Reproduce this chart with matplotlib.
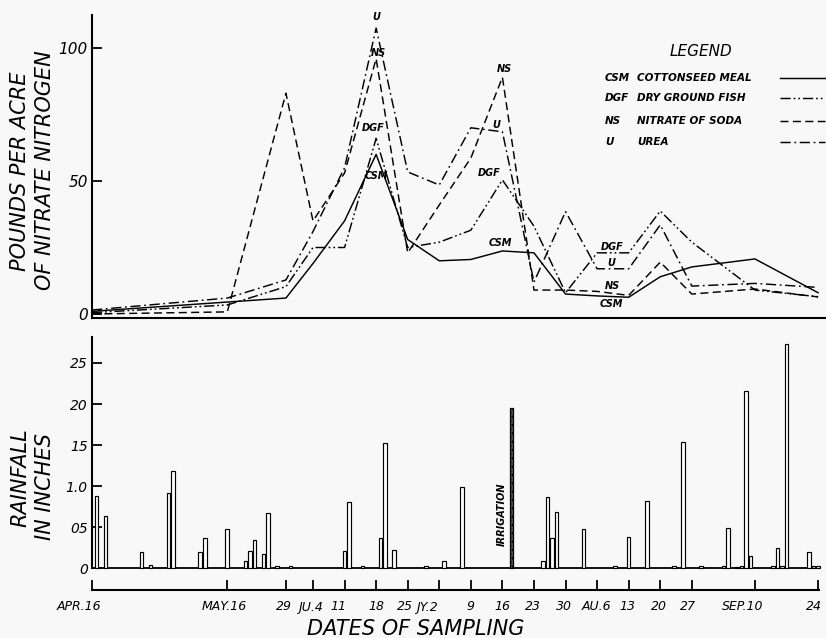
import matplotlib
matplotlib.use("Agg")
import matplotlib.pyplot as plt
from matplotlib.lines import Line2D
from matplotlib.transforms import blended_transform_factory, offset_copy

# ---------------- data ----------------
# sampling dates, expressed as days after April 16
sample_days = [0, 30, 43, 49, 56, 63, 70, 77, 84, 91, 98, 105, 112, 119, 126, 133, 147, 161]
date_labels = ["APR.16", "MAY.16", "29", "JU.4", "11", "18", "25", "JY.2", "9", "16",
               "23", "30", "AU.6", "13", "20", "27", "SEP.10", "24"]

# pounds per acre of nitrate nitrogen
csm = [1.0, 4.5, 6.0, 19.0, 35.0, 60.0, 28.0, 20.0, 20.5, 23.7, 23.0, 7.5, 6.8, 6.3, 14.0, 17.7, 20.7, 8.0]
dgf = [0.5, 3.4, 10.3, 25.0, 25.0, 66.0, 25.0, 27.0, 31.5, 50.4, 33.0, 8.0, 23.0, 23.0, 38.7, 27.0, 9.0, 6.5]
ns = [0.0, 0.8, 83.0, 35.0, 53.0, 96.0, 23.0, 41.0, 58.6, 89.0, 9.0, 9.0, 8.5, 7.0, 19.5, 7.5, 9.4, 6.4]
urea = [1.5, 6.0, 12.8, 31.0, 55.0, 107.5, 53.4, 48.5, 70.0, 68.5, 12.0, 38.5, 17.0, 17.0, 33.5, 10.5, 11.5, 10.0]

series_codes = ["CSM", "DGF", "NS", "U"]
series_names = ["COTTONSEED MEAL", "DRY GROUND FISH", "NITRATE OF SODA", "UREA"]

# daily rainfall (inches), days after April 16
rain_days = [1, 3, 11, 13, 17, 18, 24, 25, 30, 34, 35, 36, 38, 39, 41, 44, 56, 57, 60, 64,
             65, 67, 74, 78, 82, 100, 101, 102, 103, 109, 116, 119, 123, 129, 131, 135, 140, 141, 143, 144,
             145, 146, 151, 152, 153, 154, 159, 160, 161]
rain_in = [0.88, 0.63, 0.20, 0.04, 0.91, 1.18, 0.20, 0.37, 0.47, 0.08, 0.21, 0.34, 0.17, 0.67, 0.03, 0.02, 0.21, 0.80, 0.02, 0.36,
           1.53, 0.22, 0.02, 0.09, 0.99, 0.09, 0.87, 0.37, 0.68, 0.48, 0.02, 0.38, 0.82, 0.02, 1.54, 0.02, 0.03, 0.49, 0.01, 0.03,
           2.16, 0.15, 0.03, 0.24, 0.02, 2.73, 0.20, 0.02, 0.02]
irrig_days = [93]
irrig_in = [1.95]

rain_ticks = [0, 0.5, 1.0, 1.5, 2.0, 2.5]
rain_tick_labels = ["0", "05", "1.0", "15", "20", "25"]
n_ticks = [0, 50, 100]

# ---------------- layout helpers ----------------
W, H = 826, 638
plt.rcParams["font.family"] = ["DejaVu Sans"]
fig = plt.figure(figsize=(W / 100, H / 100), dpi=100)
BG = "#f8f8f8"
fig.patch.set_facecolor(BG)


def fx(px):
    return px / W


def fy(py):
    return 1 - py / H


X0, X1 = 92, 826
XMAX = 162.75
TITLE_KW = dict(fontsize=15, fontstyle="italic", fontweight="light")

# ---------------- top panel ----------------
ax1 = fig.add_axes([fx(X0), fy(318), (X1 - X0) / W, (318 - 15) / H])
ax1.set_facecolor("none")
ax1.set_xlim(0, XMAX)
ax1.set_ylim(-1.5, 112.4)
for s in ("top", "right"):
    ax1.spines[s].set_visible(False)
for s in ("left", "bottom"):
    ax1.spines[s].set_linewidth(1.5)
ax1.set_xticks([])
ax1.set_yticks(n_ticks)
ax1.set_yticklabels([str(v) for v in n_ticks], fontstyle="italic", fontsize=11)
ax1.tick_params(axis="y", direction="in", length=7, width=1.3, pad=3)

LW = 1.05
styles = {
    "CSM": "-",
    "DGF": (0, (7, 2, 1.2, 2, 1.2, 2)),
    "NS": (0, (5.5, 3)),
    "U": (0, (7, 2.5, 1.2, 2.5)),
}
data = {"CSM": csm, "DGF": dgf, "NS": ns, "U": urea}
for code in series_codes:
    ax1.plot(sample_days, data[code], color="black", lw=LW, linestyle=styles[code])

# in-chart series labels, anchored to data points
lab_kw = dict(textcoords="offset pixels", ha="center", va="center",
              fontsize=7, fontweight="bold", fontstyle="italic")
ann = [
    ("U", "U", 5, (0, 11)),
    ("NS", "NS", 5, (2, 6)),
    ("DGF", "DGF", 5, (-3, 10)),
    ("CSM", "CSM", 5, (0, -22)),
    ("NS", "NS", 9, (2, 8)),
    ("U", "U", 9, (-6, 7)),
    ("DGF", "DGF", 9, (-13, 7)),
    ("CSM", "CSM", 9, (-2, 8)),
    ("DGF", "DGF", 13, (-17, 6)),
    ("U", "U", 13, (-17, 6)),
    ("NS", "NS", 13, (-16, 9)),
    ("CSM", "CSM", 13, (-17, -7)),
]
for text, code, idx, off in ann:
    ax1.annotate(text, (sample_days[idx], data[code][idx]), xytext=off, **lab_kw)

# legend (drawn by hand to mimic the lettered legend)
fig.text(fx(701), fy(51), "LEGEND", ha="center", va="center", fontsize=11,
         fontstyle="italic", fontweight="light")
rows_y = [78, 98, 121, 142]
for code, name, ry in zip(series_codes, series_names, rows_y):
    fig.text(fx(605), fy(ry), code, ha="left", va="center", fontsize=7.5,
             fontweight="bold", fontstyle="italic")
    fig.text(fx(637), fy(ry), name, ha="left", va="center", fontsize=7.5,
             fontweight="bold", fontstyle="italic")
    fig.add_artist(Line2D([fx(780), fx(825)], [fy(ry), fy(ry)], color="black",
                          lw=LW, linestyle=styles[code], transform=fig.transFigure))

fig.text(fx(20), fy(171), "POUNDS PER ACRE", rotation=90, ha="center", va="center",
         **TITLE_KW)
fig.text(fx(45), fy(170), "OF NITRATE NITROGEN", rotation=90, ha="center", va="center",
         **TITLE_KW)

# ---------------- bottom panel ----------------
ax2 = fig.add_axes([fx(X0), fy(590), (X1 - X0) / W, (590 - 337) / H])
ax2.set_facecolor("none")
ax2.set_xlim(0, XMAX)
ax2.set_ylim(-0.268, 2.817)
for s in ("top", "right"):
    ax2.spines[s].set_visible(False)
ax2.spines["left"].set_linewidth(1.5)
ax2.spines["left"].set_bounds(0, 2.817)
ax2.spines["bottom"].set_linewidth(1.5)
ax2.spines["bottom"].set_bounds(0, 161.3)
ax2.set_yticks(rain_ticks)
ax2.set_yticklabels(rain_tick_labels, fontstyle="italic", fontsize=10)
ax2.tick_params(axis="y", direction="in", length=7, width=1.3, pad=3)
ax2.set_xticks(sample_days)
ax2.set_xticklabels([])
ax2.tick_params(axis="x", direction="in", length=7, width=1.3)

ax2.axhline(0, xmin=0, xmax=161.3 / XMAX, color="black", lw=1.3)
ax2.bar(rain_days, rain_in, width=0.8, facecolor="white", edgecolor="black", lw=0.85,
        zorder=3)
ax2.bar(irrig_days, irrig_in, width=0.8, facecolor="#555555", edgecolor="black",
        lw=0.9, hatch="....", zorder=3)
ax2.annotate("IRRIGATION", (irrig_days[0], 0.66), xytext=(-10, 0),
             textcoords="offset pixels", rotation=90, ha="center", va="center",
             fontsize=7, fontweight="bold", fontstyle="italic")

# date labels under the tick axis
label_dx = [-13, -3, -2, -3, -6, 0, -3, -12, 0, 0, -1, -2, -1, -1, -1, -4, -12, -4]
trans = blended_transform_factory(ax2.transData, ax2.transAxes)
for d, lab, dx in zip(sample_days, date_labels, label_dx):
    t = offset_copy(trans, fig=fig, x=dx, y=-17, units="dots")
    ax2.text(d, 0, lab, transform=t, ha="center", va="center", fontsize=9,
             fontstyle="italic")

fig.text(fx(20), fy(478), "RAINFALL", rotation=90, ha="center", va="center",
         **TITLE_KW)
fig.text(fx(45), fy(487), "IN INCHES", rotation=90, ha="center", va="center",
         **TITLE_KW)
fig.text(fx(416), fy(629), "DATES OF SAMPLING", ha="center", va="center",
         **TITLE_KW)

fig.savefig("out.png", dpi=100, facecolor=BG)
